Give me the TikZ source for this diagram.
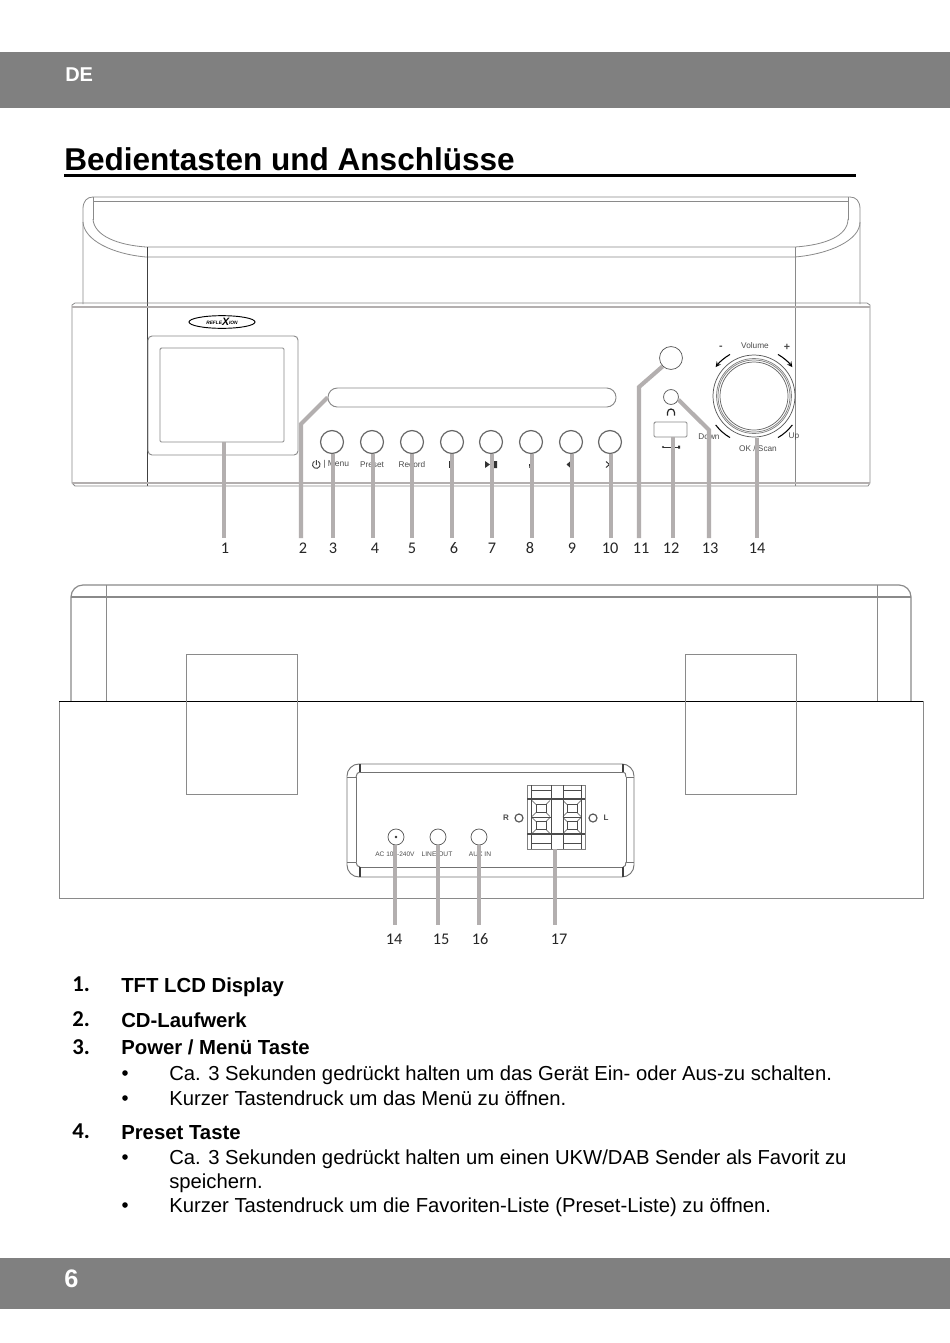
\documentclass[tikz,border=0pt]{standalone}
\usepackage{fontspec}
\setmainfont{Liberation Sans}
\newfontfamily\carl{Carlito}
\usetikzlibrary{calc,shapes.geometric}
\newcommand\fsz[1]{\fontsize{#1}{#1}\selectfont}
\definecolor{band}{HTML}{808080}
\definecolor{outl}{HTML}{8A8A8A}
\definecolor{lead}{HTML}{B3AFAF}
\tikzset{
 x=0.75pt,y=-0.75pt,
 txt/.style={anchor=base west,inner sep=0pt,text=black},
 ol/.style={draw=outl,line width=0.6pt},
 dk/.style={draw=black!75,line width=0.6pt},
 dbl/.style={draw=lead,line width=1.3pt},
 leader/.style={draw=lead,line width=3.1pt},
 btn/.style={circle,draw=black!60,line width=0.9pt,minimum size=17.2pt,inner sep=0pt,fill=white},
 jack/.style={circle,draw=black!65,line width=0.55pt,inner sep=0pt,fill=white},
 tiny/.style={inner sep=0pt,text=black!70,font=\fsz{6.2}},
 num/.style={inner sep=0pt,font=\carl\fsz{12.2},text=black!85},
 lnum/.style={txt,font=\carl\bfseries\fsz{17}},
 head/.style={txt,font=\bfseries\fsz{15.25}},
 body/.style={txt,font=\fsz{15.19}},
 bul/.style={inner sep=0pt,circle,fill=black,minimum size=4.2pt},
 frame/.style={draw=outl,line width=0.7pt,rounded corners=3pt,inner sep=0pt,fill=white},
 panel/.style={draw=black!55,line width=0.7pt},
 term/.style={draw=black!70,line width=0.6pt},
}
\begin{document}
\begin{tikzpicture}
\useasboundingbox (0,0) rectangle (950,1343);
\fill[white] (0,0) rectangle (950,1343);
% bands
\fill[band] (0,52) rectangle (950,108);
\fill[band] (0,1258) rectangle (950,1309);
\node[txt,text=white,font=\bfseries\fsz{15}] (de) at (65,81) {DE};
\node[txt,text=white,font=\bfseries\fsz{19}] (page) at (64,1287) {6};
\node[txt,font=\bfseries\fsz{23.66}] (title) at (64,170) {Bedientasten und Anschlüsse};
\fill[black] (64,173.5) rectangle (856,177);
% ===== front view
\coordinate (row1) at (0,538);
\draw[ol] (83,304) -- (83,209) .. controls (83,201) and (87,197) .. (93,197) -- (850,197) .. controls (856,197) and (860,201) .. (860,209) -- (860,304);
\draw[ol] (93,201) -- (848,201);
\draw[ol] (93,197) -- (93,220);
\draw[ol] (848,197) -- (848,220);
\draw[ol] (93,219) .. controls (94,236) and (118,245) .. (146,247) -- (795,247) .. controls (825,245) and (848,236) .. (848,219);
\draw[ol] (83,222) .. controls (84,240) and (112,254) .. (146,257) -- (795,257) .. controls (830,254) and (860,240) .. (860,222);
\draw[dk] (147,247) -- (147,486);
\draw[ol] (795,247) -- (795,486);
\draw[ol] (75,303) -- (867,303) -- (870,305) -- (870,483) -- (868,486) -- (75,486) -- (72,483) -- (72,305) -- cycle;
\draw[dbl] (72,307) -- (870,307);
\draw[dbl] (72,483) -- (870,483);
% logo
\node[ellipse,draw=black,line width=0.7pt,minimum width=49.5pt,minimum height=9.5pt,inner sep=0pt,font=\bfseries\itshape\fsz{3.6}] (logo) at (222,322) {REFLE\raisebox{-0.9pt}{\fsz{8}X}ION};
% display
\node[frame,minimum width=150*.75pt,minimum height=119*.75pt] (disp) at (223,395.5) {};
\node[frame,rounded corners=1pt,minimum width=124*.75pt,minimum height=94*.75pt] (scr) at (222,395) {};
% slot
\node[draw=outl,line width=0.7pt,rounded corners=7pt,inner sep=0pt,minimum width=288*.75pt,minimum height=19*.75pt] (slot) at (472,397.5) {};
% button labels
\node[tiny,anchor=west] (lmenu) at (323,464.5) {\fsz{6.4}| Menu};
\draw[black!75,line width=0.7pt] (318.2,461.3) arc[start angle=-60,end angle=240,radius=3.8] (316.3,460) -- (316.3,465);
\node[tiny] (lpre) at (372,464.5) {Preset};
\node[tiny] (lrec) at (412,464.5) {Record};
\fill[black!80] (449,460.5) rectangle (452.5,468);
\fill[black!80] (485,461) -- (490,464.5) -- (485,468) -- cycle (491.5,461) rectangle (497,468);
\fill[black!80] (529,464) rectangle (530.5,467) circle[radius=1.5];
\fill[black!80] (566.5,464.5) -- (570,461.5) -- (570,467.5) -- cycle;
\draw[black!80,line width=0.7pt] (606,461.5) -- (609.5,464.5) -- (606,467.5);
% buttons
\foreach \n/\x in {3/332,4/372,5/412,6/452,7/491,8/531,9/571,10/610}{
 \node[btn] (b\n) at (\x,442) {};
}
% right side controls
\node[jack,minimum size=17.2pt] (b11) at (671,358) {};
\node[jack,minimum size=11.2pt] (b13) at (671,397) {};
\draw[black!85,line width=0.9pt] (667.5,415.5) -- (667.5,412.5) arc[start angle=180,end angle=360,radius=3.5] -- (674.5,415.5);
\node[draw=outl,line width=0.7pt,rounded corners=1pt,inner sep=0pt,minimum width=33*.75pt,minimum height=15*.75pt] (usb) at (670.5,429.5) {};
\draw[black!80,line width=0.6pt] (663,447) -- (678,447);
\fill[black!80] (663,447) circle[radius=1.2] (678,445.5) rectangle (680,448.5);
% knob
\coordinate (kc) at (754,396);
\node[jack,minimum size=61.5pt] (knob) at (kc) {};
\node[jack,draw=black!50,minimum size=56.2pt] at (kc) {};
\node[jack,draw=black!50,minimum size=54pt] at (kc) {};
\node[jack,draw=black!60,minimum size=51pt] at (kc) {};
\draw[black,line width=0.8pt,->,>=stealth] ($(kc)+(-120:48)$) arc[start angle=-120,end angle=-143,radius=48];
\draw[black,line width=0.8pt,->,>=stealth] ($(kc)+(-60:48)$) arc[start angle=-60,end angle=-37,radius=48];
\draw[black,line width=0.8pt] ($(kc)+(120:48)$) arc[start angle=120,end angle=143,radius=48];
\draw[black,line width=0.8pt] ($(kc)+(60:48)$) arc[start angle=60,end angle=37,radius=48];
\node[tiny] (lvol) at (755,346) {Volume};
\node[tiny,font=\bfseries\fsz{8}] (lmin) at (721,347.5) {-};
\node[tiny,font=\bfseries\fsz{8}] (lplus) at (787,347.5) {+};
\node[tiny] (ldown) at (709,437) {Down};
\node[tiny] (lup) at (794,437) {Up};
\node[tiny] (lok) at (758,449) {OK / Scan};
% labels
\foreach \n/\x/\t in {a/225/1,c/303/2,d/333/3,e/375/4,f/412/5,g/454/6,h/492/7,i/530/8,j/572/9,k/610/10,l/641/11,m/671/12,n/710/13,o/757/14}{
 \node[num] (u\n) at (\x,548) {\t};
}
% leaders front
\draw[leader] (scr.south -| 224,0) -- (224,0 |- row1);
\draw[leader] (slot.west) -- (301,424) -- (301,0 |- row1);
\foreach \n/\x in {3/333,4/373,5/412,6/452,7/492,8/532,9/572,10/611}{
 \draw[leader] (b\n.south -| \x,0) -- (\x,0 |- row1);
}
\draw[leader] (b11.south west) -- (639,387) -- (639,0 |- row1);
\draw[leader] (b13.-20) -- (709,430) -- (709,0 |- row1);
\draw[leader] (usb.south -| 673,0) -- (673,0 |- row1);
\draw[leader] (knob.south -| 757,0) ++(0,1) -- (757,0 |- row1);
% ===== back view
\coordinate (row2) at (0,925);
\draw[ol,line width=0.9pt] (71,701) -- (71,597) arc[start angle=180,end angle=270,radius=12] -- (899,585) arc[start angle=270,end angle=360,radius=12] -- (911,701);
\draw[ol,line width=0.9pt] (71,597) -- (911,597);
\draw[ol] (106,585) -- (106,701);
\draw[ol] (877,585) -- (877,701);
\draw[ol] (59,701) rectangle (923,898);
\draw[black,line width=0.7pt] (59,701) -- (923,701);
\draw[ol] (186,794) rectangle (297,654);
\draw[ol] (685,794) rectangle (796,654);
% panel
\draw[panel,rounded corners=9pt] (347,764) rectangle (634,877);
\draw[panel] (360,772) -- (623,772) (360,867) -- (623,867);
\draw[panel] (356,777) -- (356,862) (626,777) -- (626,862);
\draw[panel] (356,777) .. controls (356,774) and (358,772) .. (360,772);
\draw[panel] (626,777) .. controls (626,774) and (625,772) .. (623,772);
\draw[panel] (356,862) .. controls (356,865) and (358,867) .. (360,867);
\draw[panel] (626,862) .. controls (626,865) and (625,867) .. (623,867);
\draw[black!75,line width=0.9pt] (360,764) -- (360,772) (623,764) -- (623,772) (360,867) -- (360,877) (623,867) -- (623,877);
\draw[panel] (347,777) -- (356,777) (626,777) -- (634,777) (347,862) -- (356,862) (626,862) -- (634,862);
% jacks
\node[jack,minimum size=12pt] (jac) at (396,837) {};
\fill[black!80] (jac) circle[radius=1.3];
\node[jack,minimum size=12pt] (jlo) at (438,837) {};
\node[jack,minimum size=12pt] (jai) at (479,837) {};
\node[tiny,font=\fsz{4.9}] (tac) at (395,854) {AC 100-240V};
\node[tiny,font=\fsz{5}] (tlo) at (437,854) {LINE OUT};
\node[tiny,font=\fsz{5}] (tai) at (480,854) {AUX IN};
% terminal block
\draw[draw=black!50,line width=0.6pt] (527,785) rectangle (585,849);
\draw[term] (531,785) -- (531,849) (551,785) -- (551,849) (563,785) -- (563,849) (581,785) -- (581,849);
\draw[term] (531,790) -- (551,790) (563,790) -- (581,790) (531,843) -- (551,843) (563,843) -- (581,843);
\draw[term,line width=1pt] (527,799) -- (585,799) (527,834) -- (585,834);
\draw[term] (531,817) -- (551,817) (563,817) -- (581,817);
\foreach \x in {541,572}{\foreach \y in {808.5,825.5}{
 \draw[term,line width=0.5pt] (\x-5,\y-4) rectangle (\x+5,\y+4);
 \draw[term,line width=0.5pt] (\x-9,\y-8) -- (\x-5,\y-4) (\x+9,\y-8) -- (\x+5,\y-4) (\x-9,\y+8) -- (\x-5,\y+4) (\x+9,\y+8) -- (\x+5,\y+4);
}}
\node[jack,minimum size=6pt,line width=0.9pt] (rr) at (519,818) {};
\node[jack,minimum size=6pt,line width=0.9pt] (rl) at (593,818) {};
\node[tiny,font=\bfseries\fsz{6}] (tr) at (506,818) {R};
\node[tiny,font=\bfseries\fsz{6}] (tl) at (606,818) {L};
\coordinate (t17) at (555,849);
\foreach \n/\x/\t in {p/394/14,q/441/15,r/480/16,s/559/17}{
 \node[num] (u\n) at (\x,939) {\t};
}
\draw[leader] (jac.south -| 395,0) -- (395,0 |- row2);
\draw[leader] (jlo.south) -- (438,0 |- row2);
\draw[leader] (jai.south) -- (479,0 |- row2);
\draw[leader] (t17) -- (555,0 |- row2);
% ===== text
\node[lnum] (n1) at (72,991.5) {1.};
\node[head] (h1) at (121,992) {TFT LCD Display};
\node[lnum] (n2) at (72,1026.5) {2.};
\node[head] (h2) at (121,1027) {CD-Laufwerk};
\node[lnum] (n3) at (72,1054) {3.};
\node[head] (h3) at (121,1054) {Power / Menü Taste};
\node[bul] (b31) at (125,1073) {};
\node[body] (t31) at (169,1080) {Ca. 3 Sekunden gedrückt halten um das Gerät Ein- oder Aus-zu schalten.};
\node[bul] (b32) at (125,1098) {};
\node[body] (t32) at (169,1105) {Kurzer Tastendruck um das Menü zu öffnen.};
\node[lnum] (n4) at (72,1138) {4.};
\node[head] (h4) at (121,1139) {Preset Taste};
\node[bul] (b41) at (125,1157) {};
\node[body] (t41) at (169,1164) {Ca. 3 Sekunden gedrückt halten um einen UKW/DAB Sender als Favorit zu};
\node[body] (t41b) at (169,1188) {speichern.};
\node[bul] (b42) at (125,1205) {};
\node[body] (t42) at (169,1212) {Kurzer Tastendruck um die Favoriten-Liste (Preset-Liste) zu öffnen.};
\end{tikzpicture}
\end{document}
